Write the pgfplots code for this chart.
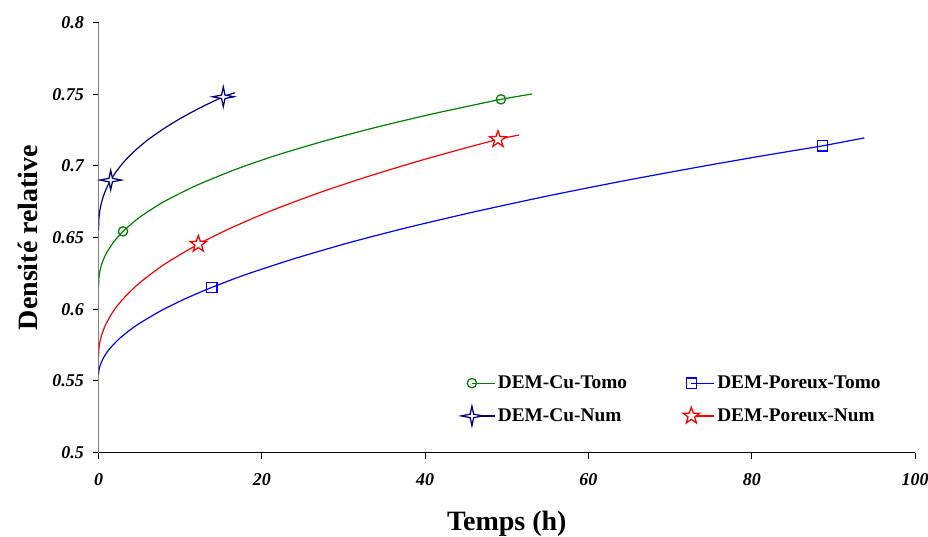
\documentclass[border=0pt]{standalone}
\usepackage{fontspec}
\setmainfont{Liberation Serif}
\usepackage{pgfplots}
\pgfplotsset{compat=1.18}
\definecolor{cgreen}{RGB}{0,128,0}
\definecolor{cnavy}{RGB}{0,0,128}
\definecolor{cblue}{RGB}{0,0,255}
\definecolor{cred}{RGB}{255,0,0}
\pgfdeclareplotmark{starfour}{%
  \pgfpathmoveto{\pgfqpoint{0pt}{7.3pt}}%
  \pgfpathlineto{\pgfqpoint{1.3pt}{1.3pt}}%
  \pgfpathlineto{\pgfqpoint{8.0pt}{0pt}}%
  \pgfpathlineto{\pgfqpoint{1.3pt}{-1.3pt}}%
  \pgfpathlineto{\pgfqpoint{0pt}{-7.3pt}}%
  \pgfpathlineto{\pgfqpoint{-1.3pt}{-1.3pt}}%
  \pgfpathlineto{\pgfqpoint{-8.0pt}{0pt}}%
  \pgfpathlineto{\pgfqpoint{-1.3pt}{1.3pt}}%
  \pgfpathclose
  \pgfusepathqfillstroke}
\pgfdeclareplotmark{starfive}{%
  \pgfpathmoveto{\pgfqpoint{0pt}{6.5pt}}%
  \pgfpathlineto{\pgfqpoint{1.528pt}{2.103pt}}%
  \pgfpathlineto{\pgfqpoint{6.182pt}{2.009pt}}%
  \pgfpathlineto{\pgfqpoint{2.473pt}{-0.803pt}}%
  \pgfpathlineto{\pgfqpoint{3.821pt}{-5.259pt}}%
  \pgfpathlineto{\pgfqpoint{0pt}{-2.6pt}}%
  \pgfpathlineto{\pgfqpoint{-3.821pt}{-5.259pt}}%
  \pgfpathlineto{\pgfqpoint{-2.473pt}{-0.803pt}}%
  \pgfpathlineto{\pgfqpoint{-6.182pt}{2.009pt}}%
  \pgfpathlineto{\pgfqpoint{-1.528pt}{2.103pt}}%
  \pgfpathclose
  \pgfusepathqfillstroke}
\begin{document}
\begin{tikzpicture}
\path[use as bounding box] (-73.9pt,-62.6pt) rectangle (622.1pt,339.4pt);
\begin{axis}[
  at={(0pt,0pt)}, anchor=south west,
  scale only axis, width=612.4pt, height=322.5pt,
  xmin=0, xmax=100, ymin=0.5, ymax=0.8,
  axis x line*=bottom, axis y line*=left,
  x axis line style={black, line width=0.8pt},
  y axis line style={draw=gray, line width=0.9pt},
  tick align=outside, major tick length=4.5pt,
  every tick/.style={black, line width=0.6pt},
  xtick={0,20,40,60,80,100},
  ytick={0.5,0.55,0.6,0.65,0.7,0.75,0.8},
  yticklabels={0.5,0.55,0.6,0.65,0.7,0.75,0.8},
  xticklabels={0,20,40,60,80,100},
  /pgf/number format/assume math mode=true,
  ticklabel style={font=\fontsize{13.5}{16}\selectfont\bfseries\itshape},
  xticklabel style={yshift=-7.8pt},
  yticklabel style={xshift=-3pt},
  xlabel={Temps (h)}, ylabel={Densité relative},
  every axis x label/.style={at={(axis description cs:0.5,-0.165)}, anchor=center, font=\fontsize{21}{24}\selectfont\bfseries},
  every axis y label/.style={at={(axis description cs:-0.0863,0.5)}, rotate=90, anchor=center, font=\fontsize{21}{24}\selectfont\bfseries},
  legend columns=2,
  legend style={at={(axis cs:43.9,0.5575)}, anchor=north west, draw=none, fill=none,
    font=\fontsize{14.5}{17}\selectfont\bfseries, row sep=9.5pt,
    /tikz/every even column/.append style={column sep=40pt}},
  legend cell align=left,
  legend image code/.code={\draw[#1, mark indices={1}] plot coordinates {(0pt,0pt) (17pt,0pt)};},
  every axis plot/.append style={line width=0.9pt, mark options={fill=white, line width=0.95pt}},
]
% DEM-Cu-Tomo
\addplot[cgreen, smooth, tension=0.4, mark=o, mark size=3.5pt, mark indices={7,17}] coordinates {
(0,0.6152) (0.05,0.6219) (0.15,0.6259) (0.4,0.6316) (0.9,0.6384) (1.8,0.6465) (3.0,0.6543)
(5,0.6640) (8,0.6750) (12,0.6864) (17,0.6980) (22,0.7078) (28,0.7179) (34,0.7269)
(40,0.7351) (45,0.7413) (49.28,0.7464) (53.1,0.7502)};
\addlegendentry{DEM-Cu-Tomo}
% DEM-Poreux-Tomo
\addplot[cblue, smooth, tension=0.4, mark=square, mark size=3.9pt, mark indices={10,20}] coordinates {
(0,0.554) (0.05,0.5573) (0.2,0.5608) (0.6,0.5660) (1.3,0.5720) (2.5,0.5792) (4.5,0.5882)
(7.5,0.5985) (10.5,0.6070) (13.86,0.6152) (18,0.6241) (24,0.6353) (31,0.6469) (38,0.6572)
(46,0.6679) (55,0.6790) (64,0.6892) (73,0.6987) (81,0.7067) (88.68,0.7140) (93.77,0.7195)};
\addlegendentry{DEM-Poreux-Tomo}
% DEM-Cu-Num
\addplot[cnavy, smooth, tension=0.4, mark=starfour, mark indices={7,15}] coordinates {
(0,0.655) (0.05,0.6635) (0.15,0.6684) (0.3,0.6729) (0.6,0.6790) (1.0,0.6847) (1.49,0.6901)
(2.2,0.6963) (3.2,0.7034) (4.5,0.7108) (6,0.7180) (8,0.7260) (10,0.7330) (12.5,0.7407)
(15.28,0.7482) (16.7,0.7510)};
\addlegendentry{DEM-Cu-Num}
% DEM-Poreux-Num
\addplot[cred, smooth, tension=0.4, mark=starfive, mark indices={10,17}] coordinates {
(0,0.5668) (0.05,0.5726) (0.15,0.5766) (0.4,0.5823) (0.9,0.5896) (1.8,0.5985) (3,0.6072)
(5,0.6182) (8,0.6311) (12.22,0.6454) (16,0.6561) (21,0.6684) (27,0.6812) (33,0.6926)
(39,0.7030) (44,0.7110) (48.92,0.7185) (51.5,0.7215)};
\addlegendentry{DEM-Poreux-Num}
\end{axis}
\end{tikzpicture}
\end{document}
